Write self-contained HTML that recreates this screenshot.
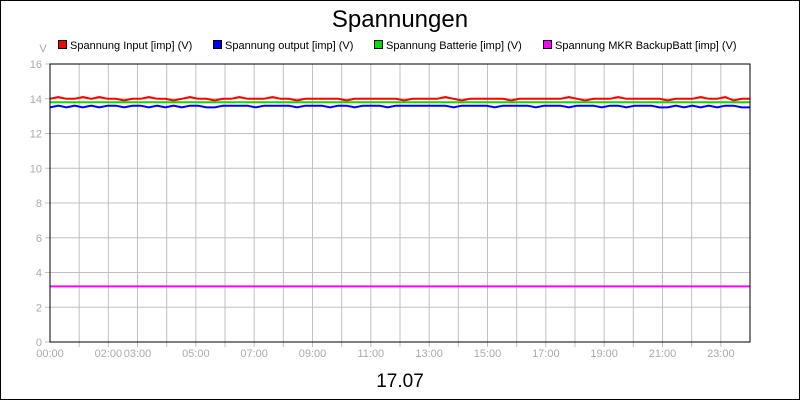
<!DOCTYPE html>
<html><head><meta charset="utf-8"><style>
body{margin:0;background:#fff}
svg{display:block;font-family:"Liberation Sans",sans-serif}
</style></head><body>
<svg width="800" height="400" viewBox="0 0 800 400">
<rect x="0.5" y="0.5" width="799" height="399" fill="#fff" stroke="#000"/>
<text x="400" y="27" text-anchor="middle" font-size="24">Spannungen</text>
<text x="43" y="52" text-anchor="middle" font-size="11" fill="#aaa">V</text>
<g id="legend"></g>
<g id="grid"></g>
<g id="series"></g>
<rect x="50" y="64" width="700" height="278" fill="none" stroke="#000"/>
<text x="400" y="387" text-anchor="middle" font-size="19">17.07</text>
</svg>
<script>
const yTicks=[0,2,4,6,8,10,12,14,16];
const xTickLabels=["00:00","","02:00","03:00","","05:00","","07:00","","09:00","","11:00","","13:00","","15:00","","17:00","","19:00","","21:00","","23:00"];
const seriesNames=["Spannung Input [imp] (V)","Spannung output [imp] (V)","Spannung Batterie [imp] (V)","Spannung MKR BackupBatt [imp] (V)"];
const seriesColors=["#ff0000","#0000ff","#00e000","#ff00ff"];
const inputV=[14.0,14.1,14.0,14.0,14.1,14.0,14.1,14.0,14.0,13.9,14.0,14.0,14.1,14.0,14.0,13.9,14.0,14.1,14.0,14.0,13.9,14.0,14.0,14.1,14.0,14.0,14.0,14.1,14.0,14.0,13.9,14.0,14.0,14.0,14.0,14.0,13.9,14.0,14.0,14.0,14.0,14.0,14.0,13.9,14.0,14.0,14.0,14.0,14.1,14.0,13.9,14.0,14.0,14.0,14.0,14.0,13.9,14.0,14.0,14.0,14.0,14.0,14.0,14.1,14.0,13.9,14.0,14.0,14.0,14.1,14.0,14.0,14.0,14.0,14.0,13.9,14.0,14.0,14.0,14.1,14.0,14.0,14.1,13.9,14.0,14.0];
const outputV=[13.5,13.6,13.5,13.6,13.5,13.6,13.5,13.6,13.6,13.5,13.6,13.6,13.5,13.6,13.5,13.6,13.5,13.6,13.6,13.5,13.5,13.6,13.6,13.6,13.6,13.5,13.6,13.6,13.6,13.6,13.5,13.6,13.6,13.6,13.5,13.6,13.6,13.5,13.6,13.6,13.6,13.5,13.6,13.6,13.6,13.6,13.6,13.6,13.6,13.5,13.6,13.6,13.6,13.6,13.5,13.6,13.6,13.6,13.6,13.5,13.6,13.6,13.6,13.5,13.6,13.6,13.6,13.5,13.6,13.6,13.5,13.6,13.6,13.6,13.5,13.5,13.6,13.5,13.6,13.5,13.6,13.5,13.6,13.6,13.5,13.5];
const batteryV=[13.8,13.8,13.8,13.8,13.8,13.8,13.8,13.8,13.8,13.8,13.8,13.8,13.8,13.8,13.8,13.8,13.8,13.8,13.8,13.8,13.8,13.8,13.8,13.8,13.8,13.8,13.8,13.8,13.8,13.8,13.8,13.8,13.8,13.8,13.8,13.8,13.8,13.8,13.8,13.8,13.8,13.8,13.8,13.8,13.8,13.8,13.8,13.8,13.8,13.8,13.8,13.8,13.8,13.8,13.8,13.8,13.8,13.8,13.8,13.8,13.8,13.8,13.8,13.8,13.8,13.8,13.8,13.8,13.8,13.8,13.8,13.8,13.8,13.8,13.8,13.8,13.8,13.8,13.8,13.8,13.8,13.8,13.8,13.8,13.8,13.8];
const mkrV=[3.2,3.2,3.2,3.2,3.2,3.2,3.2,3.2,3.2,3.2,3.2,3.2,3.2,3.2,3.2,3.2,3.2,3.2,3.2,3.2,3.2,3.2,3.2,3.2,3.2,3.2,3.2,3.2,3.2,3.2,3.2,3.2,3.2,3.2,3.2,3.2,3.2,3.2,3.2,3.2,3.2,3.2,3.2,3.2,3.2,3.2,3.2,3.2,3.2,3.2,3.2,3.2,3.2,3.2,3.2,3.2,3.2,3.2,3.2,3.2,3.2,3.2,3.2,3.2,3.2,3.2,3.2,3.2,3.2,3.2,3.2,3.2,3.2,3.2,3.2,3.2,3.2,3.2,3.2,3.2,3.2,3.2,3.2,3.2,3.2,3.2];
const NS="http://www.w3.org/2000/svg";
const X0=50,X1=750,Y0=342,Y1=64;
const yScale=v=>Y0-(v-0)/(16-0)*(Y0-Y1);
const hourScale=h=>X0+h/24*(X1-X0);
function mk(tag,attrs,parent){const e=document.createElementNS(NS,tag);for(const k in attrs)e.setAttribute(k,attrs[k]);parent.appendChild(e);return e;}
const grid=document.getElementById('grid');
yTicks.forEach(v=>{
  const y=yScale(v);
  if(v>0&&v<16){const l=mk('line',{x1:X0,x2:X1,y1:y,y2:y,stroke:'#c0c0c0'},grid);
  
  }
  const tk=mk('line',{x1:X0-5,x2:X0,y1:y,y2:y,stroke:'#c0c0c0'},grid);
  
  
  const t=mk('text',{x:X0-8,y:y+4,'text-anchor':'end','font-size':11,fill:'#aaa'},grid);
  t.textContent=v;
  
  
});
for(let h=1;h<24;h++){
  const x=hourScale(h);
  const l=mk('line',{x1:x,x2:x,y1:Y1,y2:Y0+5,stroke:'#c0c0c0'},grid);
  
  
}
xTickLabels.forEach((s,i)=>{
  if(!s)return;
  const t=mk('text',{x:hourScale(i),y:357,'text-anchor':'middle','font-size':11,fill:'#aaa'},grid);
  t.textContent=s;
  
  
});
const ser=document.getElementById('series');
[inputV,outputV,batteryV,mkrV].forEach((arr,si)=>{
  const pts=arr.map((v,i)=>hourScale(i/(arr.length-1)*24).toFixed(1)+','+yScale(v).toFixed(1)).join(' ');
  const p=mk('polyline',{points:pts,fill:'none',stroke:seriesColors[si],'stroke-width':2},ser);
  
  
});
const lg=document.getElementById('legend');
const lx=[58,213,374,543];
seriesNames.forEach((n,i)=>{
  const r=mk('rect',{x:lx[i]+0.5,y:40.5,width:8,height:8,fill:seriesColors[i],stroke:'#000'},lg);
  
  
  const t=mk('text',{x:lx[i]+12,y:49,'font-size':11},lg);
  t.textContent=n;
  
  
});
</script>
</body></html>
